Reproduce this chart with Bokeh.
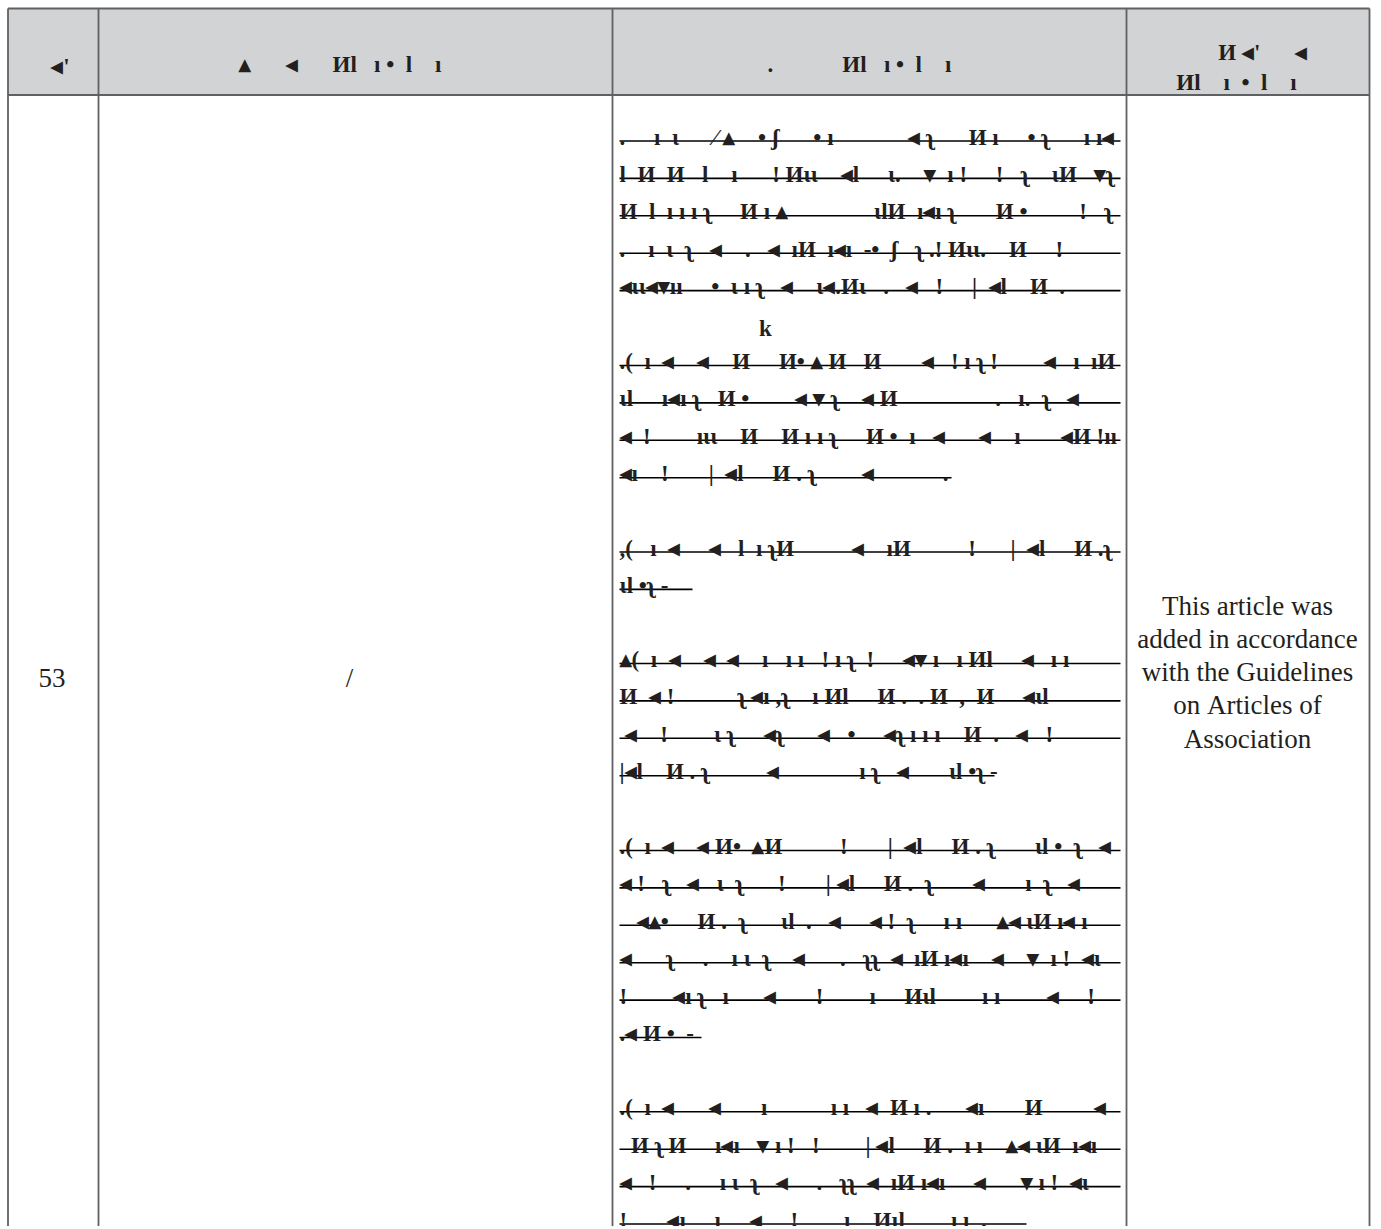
from bokeh.plotting import figure
from bokeh.models import Range1d
from bokeh.embed import file_html
from bokeh.resources import INLINE
from bokeh.core.properties import value

# ---------------- data ----------------
header_col1 = ["◂'"]
header_col2 = ["▴      ◂      Иl   ı •  l    ı"]
header_col3 = [".            Иl   ı •  l    ı"]
header_col4 = ["И ◂'      ◂", "Иl    ı  •  l    ı"]

article_no = "53"
article_col2 = "/"
note_lines = ["This article was", "added in accordance", "with the Guidelines",
              "on Articles of", "Association"]

block1 = [
    ".     ı  ɩ      ⁄ ▴    • ʃ      • ı             ◂ ʅ      И ı     • ʅ      ı ı◂",
    "l  И  И   l    ı      ! Иɩɩ    ◂l     ɩ.    ▾  ı !     !   ʅ    ɩИ   ▾ʅ",
    "И  l  ı ı ı ʅ     И ı ▴               ɩlИ  ı◂ı ʅ       И •         !   ʅ",
    ".    ı  ɩ  ʅ   ◂    .   ◂  ıИ  ı◂ı  -•  ʃ   ʅ .! Иɩɩ.    И     !",
    "◂ɩɩ◂▾ıı     •  ɩ ı ʅ   ◂    ɩ◂.Иɩ   .   ◂   !     |  ◂l    И  .",
]
mark_k = "k"
block2 = [
    ".(  ı  ◂    ◂    И     И• ▴ И   И       ◂   ! ı ʅ !        ◂   ı  ıИ",
    "ɩl     ı◂ı ʅ   И •        ◂ ▾ ʅ    ◂ И                 .   ı.  ʅ   ◂",
    "◂  !        ıɩɩ    И    И ı ı ʅ     И •  ı   ◂      ◂    ı       ◂И !ıı",
    "◂ı    !       |  ◂l     И . ʅ        ◂            .",
]
block3 = [
    ",(   ı  ◂     ◂   l  ı ʅИ          ◂    ıИ          !      |  ◂l     И .ʅ",
    "ɩl •ʅ -",
]
block4 = [
    "▴(  ı  ◂    ◂  ◂    ı   ı ı   ! ı ʅ  !     ◂▾ ı   ı Иl     ◂   ı ı",
    "И  ◂ !           ʅ ◂ı ,ʅ    ı Иl     И .  . И  ,  И     ◂ɩl",
    " ◂    !        ɩ ʅ     ◂ʅ      ◂   •     ◂ʅ ı ı ı    И  .   ◂   !",
    "|◂l    И . ʅ          ◂              ı ʅ   ◂       ɩl •ʅ -",
]
block5 = [
    ".(  ı  ◂    ◂ И•  ▴И          !       |  ◂l     И . ʅ       ɩl •  ʅ   ◂",
    "◂ !   ʅ   ◂   ɩ  ʅ      !       | ◂l     И .  ʅ       ◂       ı  ʅ   ◂",
    "   ◂▴•     И .  ʅ      ɩl  .   ◂     ◂ !  ʅ     ı ı      ▴◂ ɩИ ı◂ ı",
    "◂      ʅ     .    ı ɩ  ʅ    ◂      .   ʅʅ  ◂  ıИ ı◂ı    ◂    ▾  ı !  ◂ɩ",
    "!        ◂ı ʅ   ı      ◂       !        ı     Иɩl        ı ı        ◂     !",
    ".◂ И •  -",
]
block6 = [
    ".(  ı  ◂      ◂       ı           ı ı   ◂  И ı .      ◂ı       И         ◂",
    "  И ʅ И     ı◂ı   ▾ ı !   !        | ◂l     И .  ı ı    ▴◂ ɩИ  ı◂ı",
    "◂   !     .     ı ɩ  ʅ   ◂     .   ʅʅ  ◂  ıИ ı◂ı     ◂      ▾ ı !  ◂ɩ",
    "!       ◂ı     ı     ◂     !        ı    Иɩl        ı ı  .",
]
blocks = [block1, block2, block3, block4, block5, block6]

# ---------------- layout (page pixels) ----------------
W, H = 1378, 1226
col_x = [7.5, 98, 612, 1126, 1369]
top_y, header_y = 8, 94.5
block_starts = [140.5, 365, 551.5, 663, 850, 1111.3]
line_step = 37.4
underline_left, underline_right = 619, 1120
short_end = {(1, 3): 951, (2, 1): 692, (3, 3): 994, (4, 5): 701, (5, 3): 1026}

p = figure(width=W, height=H, x_range=Range1d(0, W), y_range=Range1d(H, 0),
           output_backend="svg", toolbar_location=None, min_border=0)
p.axis.visible = False
p.grid.visible = False
p.outline_line_color = None
p.background_fill_color = "white"

border = "#5f6062"
ink = "#231f20"

# header background
p.quad(left=col_x[0], right=col_x[-1], top=top_y, bottom=header_y,
       fill_color="#d1d3d4", line_color=None)

# table rules
p.segment(x0=col_x, x1=col_x, y0=[top_y] * len(col_x), y1=[H] * len(col_x),
          line_color=border, line_width=1.8)
p.segment(x0=[col_x[0]] * 2, x1=[col_x[-1]] * 2, y0=[top_y, header_y], y1=[top_y, header_y],
          line_color=border, line_width=1.8)

serif = value("'Liberation Serif', 'Times New Roman', Tinos, serif")


def nb(s):
    return s.replace(" ", "\u00a0")


def put(xs, ys, texts, size, align="center", style="normal"):
    p.text(x=xs, y=ys, text=[nb(t) for t in texts], text_font=serif, text_font_size=size,
           text_align=align, text_baseline="alphabetic", text_color=ink,
           text_font_style=style)

gsize = "23px"
# header texts
put([60], [66], header_col1, gsize, style="bold")
put([340], [64], header_col2, gsize, style="bold")
put([859], [64], header_col3, gsize, style="bold")
put([1262, 1236], [52, 82], header_col4, gsize, style="bold")

# body: col 1, 2, 4
put([51.5], [677], [article_no], "27px")
put([349], [677], [article_col2], "27px")
put([1247] * len(note_lines), [605 + 33.3 * i for i in range(len(note_lines))], note_lines, "27px")

# body: col 3 garbled lines with underlines
ux0, ux1, uy, tx, ty, tt = [], [], [], [], [], []
for b, (blk, y0) in enumerate(zip(blocks, block_starts)):
    for i, s in enumerate(blk):
        y = y0 + i * line_step
        ux0.append(underline_left)
        ux1.append(short_end.get((b, i), underline_right))
        uy.append(y)
        tx.append(underline_left)
        ty.append(y - 4)
        tt.append(s)
p.segment(x0=ux0, x1=ux1, y0=uy, y1=uy, line_color="black", line_width=1.6)
put(tx, ty, tt, gsize, align="left", style="bold")
put([765], [328], [mark_k], gsize, style="bold")

open("out.html", "w").write(file_html(p, INLINE))
